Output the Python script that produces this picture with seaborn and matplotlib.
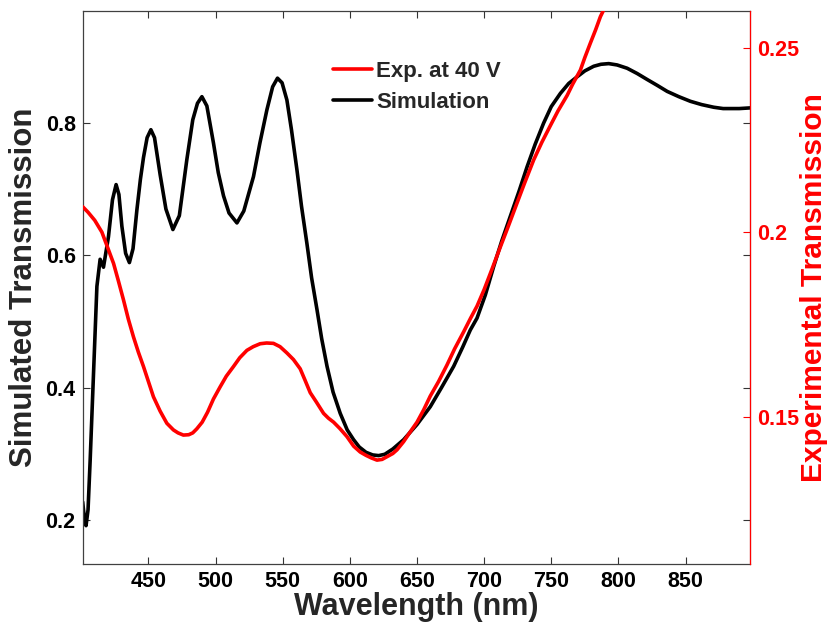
import matplotlib
matplotlib.use("Agg")
import matplotlib.pyplot as plt
import seaborn as sns
import pandas as pd

sns.set_style("ticks")
plt.rcParams['font.family'] = ['Liberation Sans', 'DejaVu Sans']
plt.rcParams['font.weight'] = 'bold'
plt.rcParams['axes.labelweight'] = 'bold'

# Simulation (left axis)
wl_sim = [401, 402.5, 403.5, 405, 406.6, 409, 411.6, 414, 416.5, 420.2, 423.2, 425.9,
          428, 430.2, 433, 435.8, 438.5, 441.4, 444, 446.3, 449, 451.8, 454.5, 458.7,
          463, 468.2, 473, 478.6, 483, 486.5, 489.8, 493.5, 498.4, 502, 505.9, 510,
          515.9, 521, 528.2, 533, 538.2, 542.5, 546.1, 549.5, 553.1, 556.5, 560.6,
          564, 568, 571.5, 575.5, 579, 583, 587.5, 592.8, 598, 602.8, 607, 612,
          617, 621.4, 626, 632, 640, 650, 659.9, 668, 677.3, 684, 689.7, 694.7,
          700.9, 707.1, 713, 719.5, 726, 732, 738, 744.3, 750, 756.8, 763, 769.2,
          775, 781.6, 787, 792.8, 799, 806.5, 814, 821.4, 829, 836.3, 845, 853.6,
          862, 871, 878, 883.4, 890, 898]
t_sim = [0.227, 0.198, 0.191, 0.215, 0.291, 0.417, 0.553, 0.594, 0.582, 0.628, 0.684, 0.707,
         0.692, 0.644, 0.603, 0.589, 0.610, 0.669, 0.715, 0.748, 0.778, 0.790, 0.778, 0.722,
         0.670, 0.639, 0.660, 0.745, 0.805, 0.830, 0.840, 0.826, 0.770, 0.725, 0.690, 0.664,
         0.649, 0.667, 0.719, 0.770, 0.820, 0.855, 0.868, 0.861, 0.835, 0.790, 0.729,
         0.674, 0.618, 0.566, 0.518, 0.474, 0.432, 0.393, 0.361, 0.336, 0.321, 0.310, 0.302,
         0.298, 0.297, 0.299, 0.307, 0.321, 0.344, 0.371, 0.399, 0.432, 0.461, 0.487, 0.505,
         0.540, 0.583, 0.621, 0.659, 0.697, 0.734, 0.768, 0.800, 0.825, 0.845, 0.860, 0.870,
         0.879, 0.886, 0.889, 0.890, 0.888, 0.883, 0.875, 0.866, 0.857, 0.848, 0.840, 0.833,
         0.828, 0.824, 0.822, 0.822, 0.822, 0.823]

# Experiment at 40 V (right axis)
wl_exp = [401, 405, 410, 415.3, 419, 424, 427.5, 431.4, 435, 438.8, 442.5, 446.3, 450,
          453.7, 458.7, 463.7, 468.6, 472, 476, 480, 483, 486, 490, 494, 498.4, 503.4,
          508, 513.3, 518, 523.3, 528, 533.2, 538, 543.1, 548, 553.1, 558, 563, 566.5,
          570.5, 575, 580.4, 584, 587.9, 592.5, 597.8, 602.8, 607.7, 612, 616, 620.2,
          624, 628, 632, 635.1, 640, 645, 650, 654.9, 659.9, 666, 672.3, 678, 684.7,
          690, 694.7, 700, 706, 712, 718, 724.5, 730, 736.9, 743, 749.3, 755, 761.8,
          766, 771.7, 775, 779.1, 783, 786.6, 789, 791]
t_exp = [0.2070, 0.2055, 0.2033, 0.2001, 0.1965, 0.1916, 0.1870, 0.1817, 0.1765, 0.1717, 0.1675,
         0.1636, 0.1595, 0.1554, 0.1515, 0.1482, 0.1464, 0.1456, 0.1450, 0.1451, 0.1456, 0.1467,
         0.1485, 0.1512, 0.1548, 0.1581, 0.1610, 0.1636, 0.1660, 0.1680, 0.1690, 0.1698, 0.1700,
         0.1699, 0.1690, 0.1673, 0.1655, 0.1630, 0.1600, 0.1565, 0.1540, 0.1509, 0.1496, 0.1485,
         0.1468, 0.1446, 0.1420, 0.1404, 0.1395, 0.1388, 0.1382, 0.1384, 0.1392, 0.1400, 0.1410,
         0.1432, 0.1459, 0.1485, 0.1518, 0.1556, 0.1595, 0.1640, 0.1684, 0.1730, 0.1768, 0.1800,
         0.1845, 0.1902, 0.1960, 0.2017, 0.2080, 0.2133, 0.2197, 0.2245, 0.2290, 0.2330, 0.2372,
         0.2403, 0.2441, 0.2475, 0.2514, 0.2550, 0.2586, 0.2604, 0.2620]

sim = pd.DataFrame({'Wavelength': wl_sim, 'T': t_sim})
exp = pd.DataFrame({'Wavelength': wl_exp, 'T': t_exp})

fig = plt.figure(figsize=(8.3, 6.28), dpi=100)
ax1 = fig.add_axes([0.0996, 0.1019, 0.804, 0.881])
sns.lineplot(data=sim, x='Wavelength', y='T', ax=ax1, color='black', lw=2.6,
             label='Simulation')
ax1.get_legend().remove()

ax2 = ax1.twinx()
sns.lineplot(data=exp, x='Wavelength', y='T', ax=ax2, color='red', lw=2.6,
             label='Exp. at 40 V')

ax1.set_xlim(401, 898)
ax1.set_ylim(0.133, 0.970)
ax2.set_ylim(0.110, 0.2602)

ax1.set_xticks([450, 500, 550, 600, 650, 700, 750, 800, 850])
ax1.set_yticks([0.2, 0.4, 0.6, 0.8])
ax2.set_yticks([0.15, 0.2, 0.25])
ax2.set_yticklabels(['0.15', '0.2', '0.25'])

ax1.tick_params(direction='in', top=True, right=True, length=5, width=0.8,
                labelsize=15.5, colors='0.2', labelcolor='black', pad=5)
ax2.tick_params(axis='y', direction='in', length=5, width=0.8, colors='red',
                labelsize=15.5, pad=5)
for s in ['left', 'top', 'bottom']:
    ax1.spines[s].set_color('0.25')
    ax1.spines[s].set_linewidth(0.9)
for s in ['left', 'top', 'bottom']:
    ax2.spines[s].set_visible(False)
ax2.spines['right'].set_color('red')
ax2.spines['right'].set_linewidth(0.9)

ax1.set_xlabel('Wavelength (nm)', fontsize=22, labelpad=0)
ax1.set_ylabel('Simulated Transmission', fontsize=22.5, labelpad=5)
ax2.set_ylabel('Experimental Transmission', fontsize=21.5, color='red', labelpad=1)

h1 = ax1.get_lines()[0]
h2 = ax2.get_lines()[0]
ax2.get_legend().remove()
ax2.legend([h2, h1], ['Exp. at 40 V', 'Simulation'], loc='upper left',
           bbox_to_anchor=(0.375, 0.910), frameon=False, fontsize=16,
           handlelength=1.76, handletextpad=0.2, labelspacing=0.45,
           borderaxespad=0, borderpad=0)

plt.savefig('out.png', dpi=100)
